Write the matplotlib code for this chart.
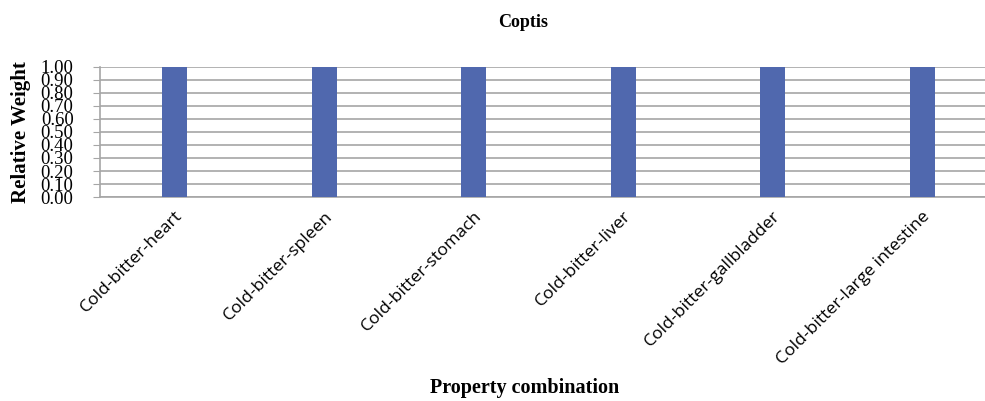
import numpy as np
import matplotlib.pyplot as plt

categories = ['Cold-bitter-heart', 'Cold-bitter-spleen', 'Cold-bitter-stomach',
              'Cold-bitter-liver', 'Cold-bitter-gallbladder', 'Cold-bitter-large intestine']
weights = [1.0, 1.0, 1.0, 1.0, 1.0, 1.0]
yticks = np.round(np.arange(0, 1.01, 0.1), 2)

fig = plt.figure(figsize=(9.85, 4.01), dpi=100)
ax = fig.add_axes([0.1015, 0.5087, 0.8985, 0.3243])

x = np.arange(len(categories))
ax.bar(x, weights, 0.165, color='#5068ae', zorder=3)

ax.set_xlim(-0.5, 5.42)
ax.set_ylim(0, 1.0)
ax.set_yticks(yticks)
ax.set_yticklabels(['%.2f' % v for v in yticks], family='Liberation Serif', fontsize=13.5)
ax.grid(axis='y', color='#a6a6a6', linewidth=1.2, zorder=0)
ax.set_xticks(x)
ax.set_xticklabels(categories, rotation=45, ha='right', rotation_mode='anchor',
                   family='Open Sans', fontsize=12.6)
ax.tick_params(axis='x', length=0, pad=8)
ax.tick_params(axis='y', length=5, color='#a6a6a6', pad=14)

for s in ['top', 'right']:
    ax.spines[s].set_visible(False)
for s in ['left', 'bottom']:
    ax.spines[s].set_color('#a6a6a6')
    ax.spines[s].set_linewidth(1.2)

fig.text(0.531, 0.945, 'Coptis', family='Liberation Serif', fontweight='bold',
         fontsize=13, ha='center', va='center')
fig.text(0.533, 0.033, 'Property combination', family='Liberation Serif', fontweight='bold',
         fontsize=14.5, ha='center', va='center')
fig.text(0.021, 0.67, 'Relative Weight', family='Liberation Serif', fontweight='bold',
         fontsize=15, ha='center', va='center', rotation=90)

fig.savefig('out.png', dpi=100)
